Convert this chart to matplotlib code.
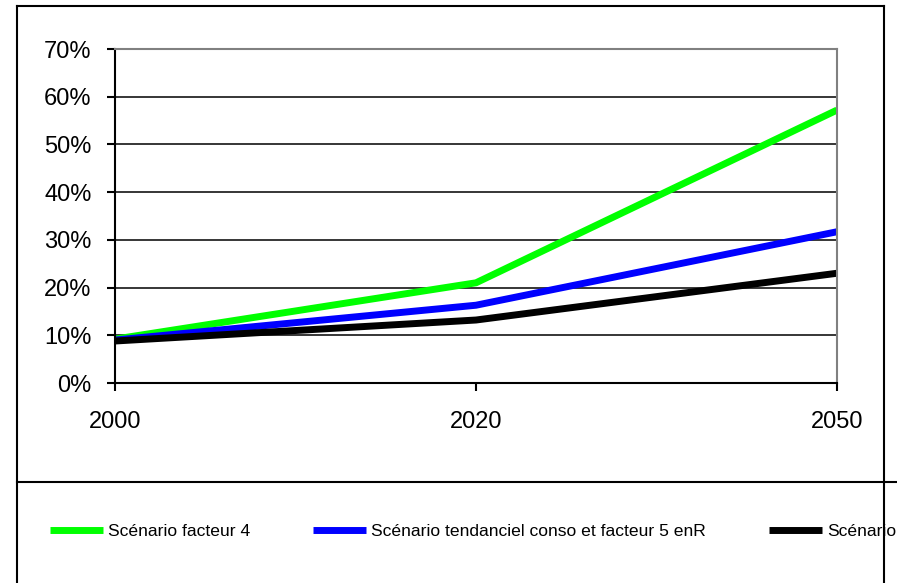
import matplotlib.pyplot as plt
from matplotlib.lines import Line2D

plt.rcParams['font.family'] = ['Liberation Sans', 'DejaVu Sans']

years = ['2000', '2020', '2050']
facteur4 = [9.2, 21.0, 57.2]
tendanciel = [9.0, 16.3, 31.7]
scenario = [8.8, 13.2, 23.0]
labels = ['Scénario facteur 4',
          'Scénario tendanciel conso et facteur 5 enR',
          'Scénario']
colors = ['#00ff00', '#0000ff', '#000000']

W, H = 897, 583
fig = plt.figure(figsize=(W / 100, H / 100), dpi=100)
ax = fig.add_axes([115 / W, 1 - 383 / H, (837 - 115) / W, (383 - 49) / H])

x = range(len(years))
for vals, lab, c in zip([facteur4, tendanciel, scenario], labels, colors):
    ax.plot(x, vals, color=c, lw=5, label=lab, solid_capstyle='butt')

ax.set_xlim(0, len(years) - 1)
ax.set_ylim(0, 70)
ax.set_xticks(list(x))
ax.set_xticklabels(years)
ax.set_yticks(range(0, 71, 10))
ax.set_yticklabels([f'{v}%' for v in range(0, 71, 10)])
ax.grid(axis='y', color='black', lw=1.1)
ax.set_axisbelow(True)

for s in ['left', 'bottom']:
    ax.spines[s].set_linewidth(1.5)
for s in ['top', 'right']:
    ax.spines[s].set_color('#808080')
    ax.spines[s].set_linewidth(1.5)

ax.tick_params(axis='y', direction='out', length=6, width=1.5, labelsize=17, pad=11)
ax.tick_params(axis='x', direction='out', length=6, width=1.5, labelsize=17, pad=14)

# outer frame and legend separator
border = dict(color='black', lw=1.5, transform=fig.transFigure)
fig.add_artist(Line2D([17 / W, 17 / W], [0, 1 - 6 / H], **border))
fig.add_artist(Line2D([884 / W, 884 / W], [0, 1 - 6 / H], **border))
fig.add_artist(Line2D([17 / W, 884 / W], [1 - 6 / H, 1 - 6 / H], **border))
fig.add_artist(Line2D([17 / W, 1], [1 - 482 / H, 1 - 482 / H], **border))

fig.legend(loc='center left', bbox_to_anchor=(50 / W, 1 - 531 / H),
           ncol=3, frameon=False, fontsize=12.6, borderpad=0, borderaxespad=0,
           handlelength=3.03, handletextpad=0.29, columnspacing=3.6)

fig.savefig('out.png', dpi=100)
